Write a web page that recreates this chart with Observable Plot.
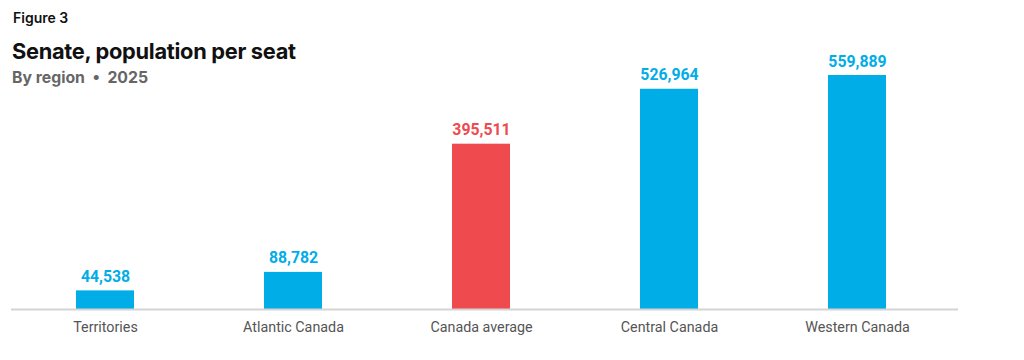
<!DOCTYPE html>
<html>
<head>
<meta charset="utf-8">
<script src="https://cdn.jsdelivr.net/npm/d3@7"></script>
<script src="https://cdn.jsdelivr.net/npm/@observablehq/plot@0.6"></script>
<style>
  html, body { margin: 0; padding: 0; background: #fff; }
  #wrap { position: relative; width: 1024px; height: 360px; overflow: hidden; }
  #head { position: absolute; left: 12px; top: 0; font-family: Inter, "Open Sans", sans-serif; }
  #fig { position: absolute; top: 9px; left: 1px; font-size: 14px; font-weight: 600; color: #111; white-space: nowrap; }
  #title { position: absolute; top: 38px; left: 0; font-size: 21.8px; font-weight: 700; color: #111; white-space: nowrap; letter-spacing: -0.3px; }
  #sub { position: absolute; top: 68px; left: 0; font-size: 15.8px; font-weight: 700; color: #666; white-space: nowrap; }
  #chart { position: absolute; left: 0; top: 0; }
</style>
</head>
<body>
<div id="wrap">
  <div id="chart"></div>
  <div id="head">
    <div id="fig">Figure 3</div>
    <div id="title">Senate, population per seat</div>
    <div id="sub">By region &nbsp;•&nbsp; 2025</div>
  </div>
</div>
<script>
const regions = ["Territories", "Atlantic Canada", "Canada average", "Central Canada", "Western Canada"];
const populationPerSeat = [44538, 88782, 395511, 526964, 559889];
const isAverage = [false, false, true, false, false];

const data = regions.map((r, i) => ({region: r, value: populationPerSeat[i], avg: isAverage[i]}));
const blue = "#00ade6", red = "#ef4a4e";
const fmt = d3.format(",");

const chart = Plot.plot({
  width: 1024,
  height: 360,
  marginTop: 75,
  marginBottom: 51,
  marginLeft: 11,
  marginRight: 66,
  style: {fontFamily: "Roboto, sans-serif", background: "transparent"},
  x: {domain: regions, range: [11, 951], paddingInner: 0.69, paddingOuter: 0.345, align: 0.5, label: null},
  y: {domain: [0, d3.max(populationPerSeat)], nice: false, axis: null},
  color: {domain: [false, true], range: [blue, red]},
  marks: [
    Plot.barY(data, {x: "region", y: "value", fill: "avg"}),
    Plot.ruleY([0], {stroke: "#d4d4d4", strokeWidth: 2}),
    Plot.text(data, {x: "region", y: "value", text: d => fmt(d.value), fill: "avg", dy: -14, fontSize: 15.8, fontWeight: 700}),
    Plot.axisX({tickSize: 0, tickPadding: 12, fontSize: 14.3, color: "#555", label: null})
  ]
});
document.getElementById("chart").appendChild(chart);
</script>
</body>
</html>
